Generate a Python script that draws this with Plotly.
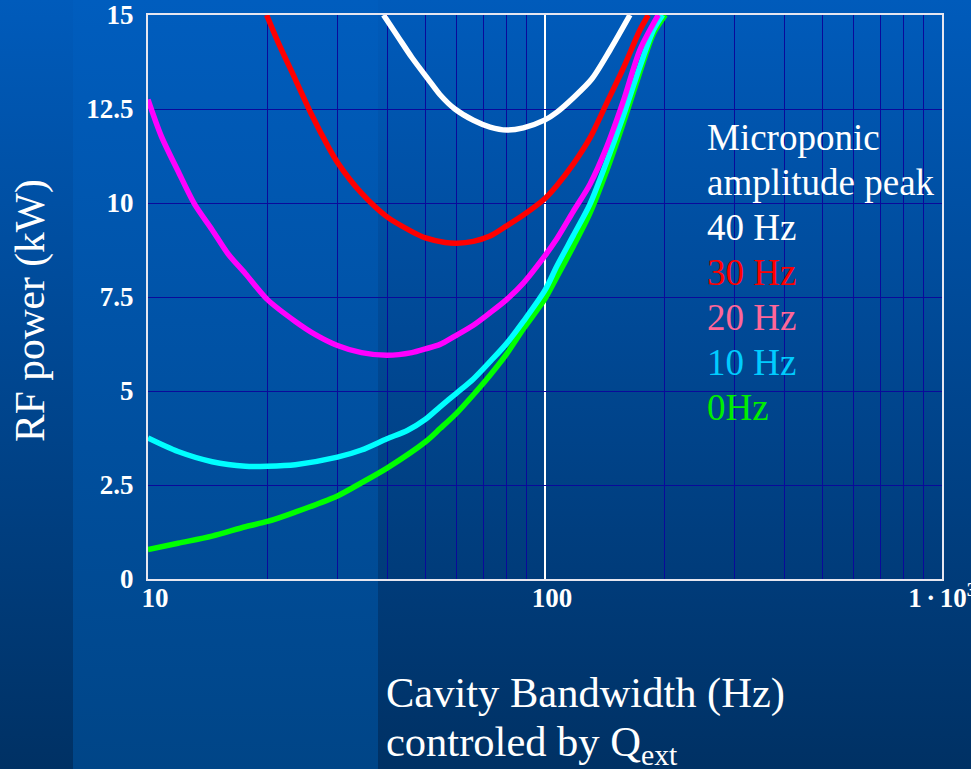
import base64
import plotly.graph_objects as go

# ---------------- data ----------------
f_40hz = [39.2, 42.7, 46.2, 50.8, 54.4, 59.3, 66, 72.7, 80, 88.2, 100, 107, 117.9, 131, 145.8, 163.7]
p_40hz = [15, 14.41, 13.87, 13.29, 12.88, 12.5, 12.2, 12.02, 11.94, 12.0, 12.21, 12.41, 12.8, 13.29, 14.07, 15]

f_30hz = [19.9, 21.3, 23.5, 25.8, 28.5, 30, 34.5, 40, 46.2, 50, 56, 60, 66, 72.7, 80, 88.2, 100, 107, 117.9, 129.8, 142.9, 157.4, 173.4, 182]
p_30hz = [15, 14.26, 13.29, 12.36, 11.48, 11.08, 10.26, 9.63, 9.24, 9.07, 8.95, 8.93, 8.98, 9.12, 9.39, 9.68, 10.12, 10.46, 11.04, 11.73, 12.65, 13.58, 14.6, 15]

f_20hz = [10, 10.8, 11.9, 13.1, 14.5, 15.9, 17.6, 20, 23.5, 26.4, 30, 34.5, 40, 46.2, 50, 54.4, 59.3, 66, 72.7, 80, 88.2, 100, 107, 117.9, 129.8, 142.9, 157.4, 173.4, 192.9]
p_20hz = [12.75, 11.78, 10.85, 9.97, 9.29, 8.65, 8.12, 7.43, 6.85, 6.5, 6.21, 6.02, 5.95, 6.02, 6.12, 6.24, 6.46, 6.75, 7.08, 7.43, 7.87, 8.6, 9.04, 9.78, 10.5, 11.48, 12.7, 14.07, 15.0]

f_10hz = [10, 11.9, 14.5, 17.6, 20, 23.5, 30, 34.5, 40, 45, 50, 54.4, 60, 66, 72.7, 80, 88.2, 100, 107, 117.9, 129.8, 142.9, 157.4, 173.4, 187.5, 197.9]
p_10hz = [3.75, 3.39, 3.12, 3.0, 3.0, 3.04, 3.24, 3.43, 3.73, 3.95, 4.25, 4.58, 4.95, 5.32, 5.78, 6.26, 6.85, 7.68, 8.31, 9.14, 9.97, 11.09, 12.31, 13.63, 14.6, 15]

f_0hz = [10, 11.9, 14.5, 17.6, 20, 23.5, 30, 34.5, 40, 50, 54.4, 60, 66, 72.7, 80, 88.2, 100, 107, 117.9, 129.8, 142.9, 157.4, 173.4, 187.5, 201]
p_0hz = [0.78, 0.95, 1.14, 1.39, 1.53, 1.78, 2.21, 2.56, 2.95, 3.65, 4.0, 4.42, 4.9, 5.42, 5.98, 6.65, 7.45, 8.02, 8.85, 9.73, 10.85, 12.12, 13.48, 14.5, 15]

x_major_ticks = [10, 100, 1000]
x_major_text = ["10", "100", "1\u2006·\u200610<sup>3</sup>\u2002"]
x_minor_ticks = [20, 30, 40, 50, 60, 70, 80, 90, 200, 300, 400, 500, 600, 700, 800, 900]
y_ticks = [0, 2.5, 5, 7.5, 10, 12.5, 15]
y_text = ["0", "2.5", "5", "7.5", "10", "12.5", "15"]

legend_lines = ["Microponic", "amplitude peak", "40 Hz", "30 Hz", "20 Hz", "10 Hz", "0Hz"]
legend_colors = ["#ffffff", "#ffffff", "#ffffff", "#ff0000", "#ff6699", "#00ccff", "#00ee00"]

# ---------------- layout geometry ----------------
W, H = 971, 769
L, R, T, B = 148, 29, 15, 190
PW, PH = W - L - R, H - T - B
SERIF = "Liberation Serif, Times New Roman, serif"


def px_x(px):
    return (px - L) / PW


def px_y(py):
    return (T + PH - py) / PH


# background gradient as an svg image
svg = f'''<svg xmlns="http://www.w3.org/2000/svg" width="{W}" height="{H}" viewBox="0 0 {W} {H}" preserveAspectRatio="none">
<defs>
<linearGradient id="g1" x1="0" y1="0" x2="0" y2="1"><stop offset="0" stop-color="#005bbb"/><stop offset="1" stop-color="#003164"/></linearGradient>
<linearGradient id="g2" x1="0" y1="0" x2="0" y2="1"><stop offset="0" stop-color="#005dbe"/><stop offset="1" stop-color="#004587"/></linearGradient>
</defs>
<rect x="0" y="0" width="{W}" height="{H}" fill="url(#g1)"/>
<rect x="73" y="0" width="305" height="{H}" fill="url(#g2)"/>
</svg>'''
bg_uri = "data:image/svg+xml;base64," + base64.b64encode(svg.encode()).decode()

fig = go.Figure()
series = [
    (f_0hz, p_0hz, "#00ff00", "0Hz"),
    (f_10hz, p_10hz, "#00ffff", "10 Hz"),
    (f_20hz, p_20hz, "#ff00ff", "20 Hz"),
    (f_30hz, p_30hz, "#ff0000", "30 Hz"),
    (f_40hz, p_40hz, "#ffffff", "40 Hz"),
]
for fx, py, col, name in series:
    fig.add_trace(go.Scatter(x=fx, y=py, mode="lines", name=name,
                             line=dict(color=col, width=5.5, shape="spline", smoothing=0.8),
                             showlegend=False))

grid_col = "#0a0a9a"
fig.update_xaxes(
    type="log", range=[1, 3], automargin=False,
    tickvals=x_major_ticks, ticktext=x_major_text,
    showgrid=True, gridcolor="#ffffff", gridwidth=2,
    minor=dict(tickvals=x_minor_ticks, showgrid=True, gridcolor=grid_col, gridwidth=1, ticks=""),
    showline=True, mirror=True, linecolor="#e6e6f0", linewidth=2,
    ticks="", ticklabelshift=7, ticklabelstandoff=-6, ticklabeloverflow="allow",
    tickfont=dict(family=SERIF, size=27, color="#ffffff", weight="bold"),
    zeroline=False,
)
fig.update_yaxes(
    range=[0, 15], tickvals=y_ticks, ticktext=y_text, automargin=False,
    showgrid=True, gridcolor=grid_col, gridwidth=1,
    showline=True, mirror=True, linecolor="#e6e6f0", linewidth=2,
    ticks="", ticklabelstandoff=7, ticklabeloverflow="allow",
    tickfont=dict(family=SERIF, size=27, color="#ffffff", weight="bold"),
    zeroline=False,
)

annotations = []
# legend-like text block
LEG_FS = 37
baselines = [150, 195, 240, 285, 330, 375, 420]
for txt, col, bl in zip(legend_lines, legend_colors, baselines):
    top = bl - 0.891 * LEG_FS
    annotations.append(dict(
        xref="paper", yref="paper", x=px_x(707), y=px_y(top),
        xanchor="left", yanchor="top", showarrow=False, text=txt,
        font=dict(family=SERIF, size=LEG_FS, color=col),
        borderpad=0, borderwidth=0,
    ))

# x-axis title (two lines)
TFS = 42.5
annotations.append(dict(
    xref="paper", yref="paper", x=px_x(386), y=px_y(707 - 0.891 * TFS),
    xanchor="left", yanchor="top", showarrow=False,
    text="Cavity Bandwidth (Hz)",
    font=dict(family=SERIF, size=TFS, color="#ffffff"), borderpad=0, borderwidth=0,
))
annotations.append(dict(
    xref="paper", yref="paper", x=px_x(386), y=px_y(756 - 0.891 * TFS),
    xanchor="left", yanchor="top", showarrow=False,
    text="controled by Q<sub>ext</sub>",
    font=dict(family=SERIF, size=TFS, color="#ffffff"), borderpad=0, borderwidth=0,
))
# y-axis title
annotations.append(dict(
    xref="paper", yref="paper", x=px_x(30), y=px_y(311),
    xanchor="center", yanchor="middle", showarrow=False, textangle=-90,
    text="RF power (kW)",
    font=dict(family=SERIF, size=41.5, color="#ffffff"), borderpad=0, borderwidth=0,
))

fig.update_layout(
    width=W, height=H,
    margin=dict(l=L, r=R, t=T, b=B, pad=0, autoexpand=False),
    paper_bgcolor="#004a92", plot_bgcolor="rgba(0,0,0,0)",
    images=[dict(source=bg_uri, xref="paper", yref="paper",
                 x=-L / PW, y=1 + T / PH, sizex=W / PW, sizey=H / PH,
                 xanchor="left", yanchor="top", sizing="stretch", layer="below")],
    annotations=annotations,
    showlegend=False,
)

fig.write_html("out.html")
